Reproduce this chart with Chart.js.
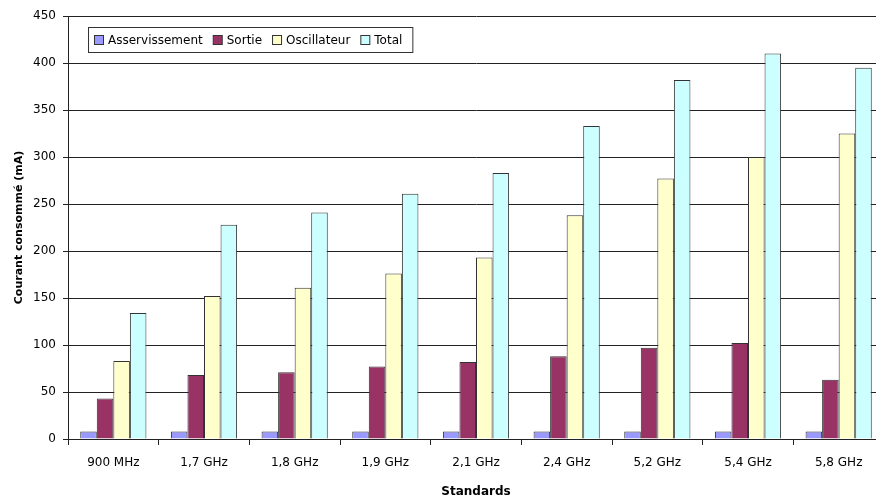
<!DOCTYPE html>
<html>
<head>
<meta charset="utf-8">
<script src="https://cdn.jsdelivr.net/npm/chart.js@4.4.0/dist/chart.umd.min.js"></script>
<style>
  html, body { margin: 0; padding: 0; background: #fff; overflow: hidden; }
  #wrap { position: relative; width: 892px; height: 503px; }
</style>
</head>
<body>
<div id="wrap"><canvas id="barChart"></canvas></div>
<script>
  'use strict';

  var standards = ['900 MHz', '1,7 GHz', '1,8 GHz', '1,9 GHz', '2,1 GHz', '2,4 GHz', '5,2 GHz', '5,4 GHz', '5,8 GHz'];
  var asservissement = [8, 8, 8, 8, 8, 8, 8, 8, 8];
  var sortie = [43, 68, 71, 77, 82, 88, 97, 102, 63];
  var oscillateur = [83, 152, 161, 176, 193, 238, 277, 300, 325];
  var total = [134, 228, 241, 261, 283, 333, 382, 410, 395];

  var fontFamily = "'Comic Sans MS', 'DejaVu Sans', sans-serif";

  // legend box drawn inside the plot, like the Excel original
  var boxLegend = {
    id: 'boxLegend',
    afterDraw: function(chart) {
      var ctx = chart.ctx;
      var x0 = 88, y0 = 27, h = 25;
      ctx.save();
      ctx.font = '12px ' + fontFamily;
      var x = x0 + 6;
      var items = chart.data.datasets.map(function(ds) {
        return { label: ds.label, color: ds.backgroundColor };
      });
      var w = 6;
      items.forEach(function(it) { w += 14 + ctx.measureText(it.label).width + 10; });
      ctx.fillStyle = '#fff';
      ctx.fillRect(x0, y0, w, h);
      ctx.strokeStyle = '#333';
      ctx.lineWidth = 1;
      ctx.strokeRect(x0 + 0.5, y0 + 0.5, w, h);
      ctx.textBaseline = 'middle';
      items.forEach(function(it) {
        ctx.fillStyle = it.color;
        ctx.fillRect(x + 0.5, y0 + 8.5, 9, 9);
        ctx.strokeStyle = '#333';
        ctx.strokeRect(x + 0.5, y0 + 8.5, 9, 9);
        ctx.fillStyle = '#000';
        ctx.fillText(it.label, x + 14, y0 + h / 2 + 1);
        x += 14 + ctx.measureText(it.label).width + 10;
      });
      ctx.restore();
    }
  };

  var barData = {
    labels: standards,
    datasets: [
      { label: 'Asservissement', data: asservissement, backgroundColor: '#9999FF' },
      { label: 'Sortie', data: sortie, backgroundColor: '#993366' },
      { label: 'Oscillateur', data: oscillateur, backgroundColor: '#FFFFCC' },
      { label: 'Total', data: total, backgroundColor: '#CCFFFF' }
    ]
  };
  barData.datasets.forEach(function(ds) {
    ds.borderColor = '#333333';
    ds.borderWidth = 1;
    ds.barPercentage = 1.0;
    ds.categoryPercentage = 0.73;
  });

  var barOptions = {
    responsive: true,
    maintainAspectRatio: false,
    animation: false,
    layout: { padding: { top: 16, right: 8, left: 9, bottom: 0 } },
    plugins: { legend: { display: false }, tooltip: { enabled: false } },
    scales: {
      x: {
        grid: { offset: true, drawOnChartArea: false, tickLength: 6, color: '#222' },
        border: { color: '#222' },
        ticks: { color: '#000', font: { family: fontFamily, size: 12 }, padding: 11 },
        title: { display: true, text: 'Standards', color: '#000', font: { family: fontFamily, size: 12, weight: 'bold' }, padding: { top: 10 } },
        afterFit: function(scale) { scale.height = 64; }
      },
      y: {
        min: 0,
        max: 450,
        ticks: { stepSize: 50, color: '#000', font: { family: fontFamily, size: 12 }, padding: 7 },
        grid: { color: '#222', tickLength: 5 },
        border: { color: '#222' },
        title: { display: true, text: 'Courant consommé (mA)', color: '#000', font: { family: fontFamily, size: 11, weight: 'bold' }, padding: { bottom: 0 } },
        afterFit: function(scale) { scale.width = 59; }
      }
    }
  };

  var ctx = document.getElementById('barChart').getContext('2d');
  new Chart(ctx, { type: 'bar', data: barData, options: barOptions, plugins: [boxLegend] });
</script>
</body>
</html>
